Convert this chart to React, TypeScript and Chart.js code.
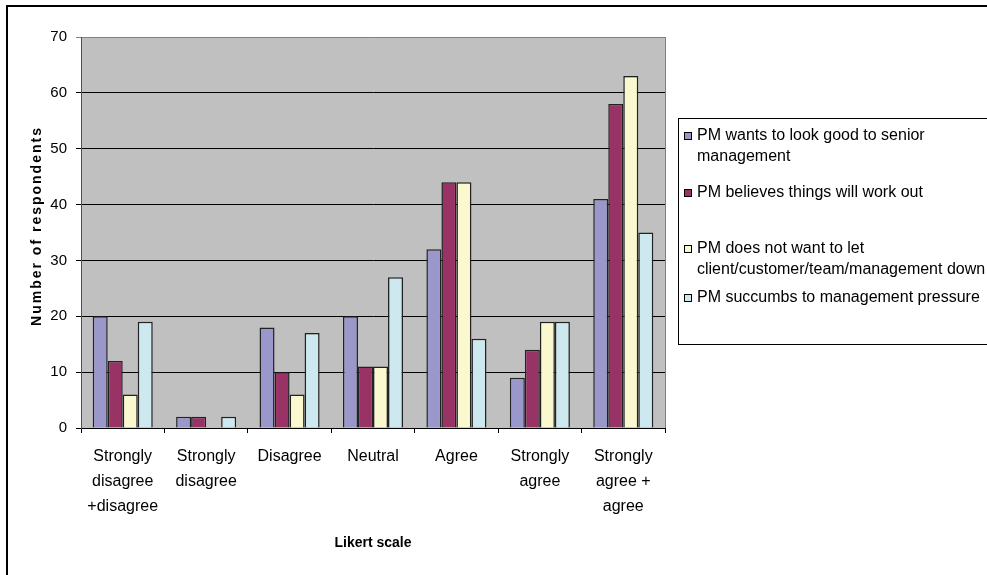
import React, { useEffect, useRef } from "react";
import { Chart, registerables } from "chart.js";

Chart.register(...registerables);

const categories: (string | string[])[] = [
  ["Strongly", "disagree", "+disagree"],
  ["Strongly", "disagree"],
  "Disagree",
  "Neutral",
  "Agree",
  ["Strongly", "agree"],
  ["Strongly", "agree +", "agree"],
];

const seriesLabels: string[][] = [
  ["PM wants to look good to senior", "management"],
  ["PM believes things will work out"],
  ["PM does not want to let", "client/customer/team/management down"],
  ["PM succumbs to management pressure"],
];

const lookGood = [20, 2, 18, 20, 32, 9, 41];
const believes = [12, 2, 10, 11, 44, 14, 58];
const notLetDown = [6, 0, 6, 11, 44, 19, 63];
const succumbs = [19, 2, 17, 27, 16, 19, 35];

const yTicks = [0, 10, 20, 30, 40, 50, 60, 70];

const colors = ["#9A98CB", "#993366", "#FAF8CF", "#CDE9EF"];

const yTitle = "Number of respondents";
const xTitle = "Likert scale";

const FONT = "'Liberation Sans', Arial, sans-serif";

const decorPlugin = {
  id: "decor",
  beforeDraw(chart: any) {
    const { ctx, chartArea: a } = chart;
    ctx.save();
    ctx.fillStyle = "#ffffff";
    ctx.fillRect(0, 0, chart.width, chart.height);
    ctx.fillStyle = "#C0C0C0";
    ctx.fillRect(a.left, a.top, a.right - a.left, a.bottom - a.top);
    ctx.restore();
  },
  afterDraw(chart: any) {
    const { ctx, chartArea: a } = chart;
    ctx.save();
    // plot right border
    ctx.strokeStyle = "#808080";
    ctx.lineWidth = 1;
    ctx.beginPath();
    ctx.moveTo(Math.round(a.right) + 0.5, a.top);
    ctx.lineTo(Math.round(a.right) + 0.5, a.bottom);
    ctx.stroke();

    // outer border
    ctx.strokeStyle = "#000";
    ctx.lineWidth = 2;
    ctx.strokeRect(7, 6, 1000, 600);

    // y title
    ctx.fillStyle = "#000";
    ctx.font = `bold 14px ${FONT}`;
    (ctx as any).letterSpacing = "2px";
    ctx.textAlign = "center";
    ctx.textBaseline = "middle";
    ctx.translate(37, 226);
    ctx.rotate(-Math.PI / 2);
    ctx.fillText(yTitle, 0, 0);
    ctx.setTransform(1, 0, 0, 1, 0, 0);
    (ctx as any).letterSpacing = "0px";

    // x title
    ctx.font = `bold 14px ${FONT}`;
    ctx.fillText(xTitle, (a.left + a.right) / 2, 543);

    // legend
    ctx.strokeStyle = "#000";
    ctx.lineWidth = 1;
    ctx.strokeRect(678.5, 118.5, 400, 226);
    const rowY = [136, 193, 249, 298];
    ctx.font = `16px ${FONT}`;
    ctx.textAlign = "left";
    ctx.textBaseline = "middle";
    chart.data.datasets.forEach((ds: any, i: number) => {
      const lines: string[] = ds.legendLines;
      const y0 = rowY[i];
      ctx.fillStyle = ds.backgroundColor;
      ctx.fillRect(684.5, y0 - 3.5, 7, 7);
      ctx.strokeStyle = "#000";
      ctx.strokeRect(684.5, y0 - 3.5, 7, 7);
      ctx.fillStyle = "#000";
      lines.forEach((ln, j) => {
        ctx.fillText(ln, 697, y0 + j * 21);
      });
    });
    ctx.restore();
  },
};

export default function App() {
  const ref = useRef<HTMLCanvasElement | null>(null);
  useEffect(() => {
    if (!ref.current) return;
    const series = [lookGood, believes, notLetDown, succumbs];
    const chart = new Chart(ref.current, {
      type: "bar",
      data: {
        labels: categories as any,
        datasets: series.map((d, i) => ({
          label: seriesLabels[i].join(" "),
          legendLines: seriesLabels[i],
          data: d,
          backgroundColor: colors[i],
          borderColor: "#222222",
          borderWidth: 1.5,
          categoryPercentage: 0.72,
          barPercentage: 1,
        })) as any,
      },
      options: {
        responsive: false,
        animation: false,
        layout: { padding: { top: 37, right: 322, left: 0, bottom: 0 } },
        plugins: {
          legend: { display: false },
          tooltip: { enabled: false },
          title: { display: false },
        },
        scales: {
          x: {
            offset: true,
            afterFit: (s: any) => {
              s.height = 147;
            },
            grid: {
              offset: true,
              drawOnChartArea: false,
              drawTicks: true,
              tickLength: 5,
              color: "#000",
            },
            border: { display: true, color: "#000", width: 1 },
            ticks: {
              color: "#000",
              padding: 11,
              maxRotation: 0,
              autoSkip: false,
              font: { family: FONT, size: 16, lineHeight: 1.5625 },
            },
          },
          y: {
            min: 0,
            max: 70,
            afterFit: (s: any) => {
              s.width = 81;
            },
            afterBuildTicks: (s: any) => {
              s.ticks = yTicks.map((v) => ({ value: v }));
            },
            grid: {
              color: (c: any) => (c.tick && c.tick.value === 70 ? "#808080" : "#000"),
              lineWidth: 1,
              tickLength: 5,
            },
            border: { display: true, color: "#505050", width: 1 },
            ticks: {
              color: "#000",
              padding: 9,
              font: { family: FONT, size: 15 },
            },
          },
        },
      },
      plugins: [decorPlugin],
    });
    return () => chart.destroy();
  }, []);
  return (
    <canvas
      ref={ref}
      width={987}
      height={575}
      style={{ position: "fixed", left: 0, top: 0, display: "block" }}
    />
  );
}
